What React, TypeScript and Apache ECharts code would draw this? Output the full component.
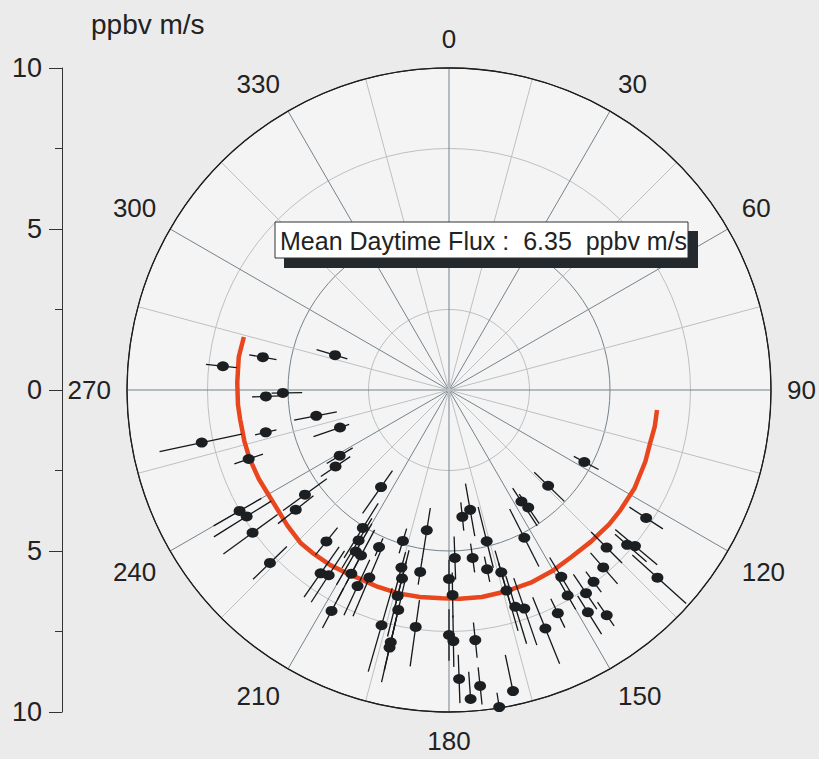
import React, { useEffect, useRef } from "react";
import * as echarts from "echarts";

// Wind direction (degrees, clockwise from north) of each flux sample
const directions = [
  287, 276, 280, 268, 269, 259, 251, 257, 258, 251,
  239, 236, 234, 232, 240, 238, 234, 226, 219, 215,
  213, 212, 211, 210, 208, 208, 203, 205, 208, 215,
  204, 197, 189, 195, 194, 194, 193, 196, 193, 193,
  189, 188, 180, 179, 180, 179, 178, 178, 134, 147,
  146, 170, 174, 166, 153, 172, 168, 164, 164, 163,
  161, 149, 150, 154, 158, 174, 174, 176, 168, 171,
  118, 123, 135, 131, 130, 139, 132, 143, 146, 148,
  145,
];
// Flux magnitude (ppbv m/s)
const fluxes = [
  3.7, 7.06, 5.87, 5.69, 5.16, 4.2, 3.58, 5.84, 7.85, 6.58,
  3.96, 4.25, 5.53, 6.04, 7.51, 7.41, 7.54, 7.73, 6.05, 6.95,
  6.86, 5.05, 5.45, 5.79, 5.82, 6.46, 6.33, 6.72, 7.77, 3.68,
  5.34, 4.9, 4.41, 5.71, 6.03, 6.59, 7.01, 7.6, 8.04, 8.21,
  5.72, 7.43, 5.87, 6.37, 7.61, 7.8, 5.22, 8.98, 4.28, 4.13,
  4.4, 3.78, 3.96, 4.84, 5.15, 5.27, 5.69, 5.89, 6.48, 7.04,
  7.18, 6.77, 7.37, 7.71, 7.99, 7.81, 9.24, 9.62, 9.56, 9.97,
  4.76, 7.3, 6.92, 7.33, 7.54, 7.3, 8.71, 7.46, 7.61, 8.14,
  8.54,
];
// Error bar extent towards the centre (ppbv m/s)
const errMinus = [
  0.4, 0.43, 0.43, 0.43, 0.6, 0.65, 0.3, 0.34, 1.27, 0.47,
  0.47, 0.55, 0.84, 0.7, 0.78, 0.9, 0.96, 0.73, 0.55, 1.0,
  0.9, 0.9, 0.8, 1.0, 0.9, 0.7, 0.9, 0.9, 0.8, 0.62,
  0.3, 0.4, 0.7, 0.5, 0.9, 1.1, 1.0, 1.2, 1.2, 1.0,
  0.4, 0.84, 0.6, 0.7, 0.8, 0.8, 0.67, 0.75, 0.6, 0.5,
  0.5, 0.83, 0.45, 1.1, 1.0, 0.45, 0.4, 0.7, 0.9, 1.0,
  1.0, 0.7, 0.6, 0.5, 1.05, 0.55, 0.58, 0.85, 1.15, 0.45,
  0.37, 0.62, 0.68, 0.5, 0.8, 0.6, 1.05, 0.4, 0.7, 0.6,
  0.5,
];
// Error bar extent away from the centre (ppbv m/s)
const errPlus = [
  0.6, 0.53, 0.43, 0.43, 0.35, 0.7, 0.87, 0.34, 1.34, 0.47,
  0.47, 0.55, 0.84, 0.7, 0.93, 1.2, 1.12, 0.73, 0.55, 0.9,
  1.0, 1.1, 1.0, 1.2, 1.0, 0.9, 1.3, 1.0, 0.6, 1.0,
  0.3, 0.4, 0.93, 0.8, 1.0, 1.3, 1.4, 1.5, 0.9, 1.1,
  0.4, 1.24, 0.6, 0.7, 0.8, 0.8, 0.67, 0.75, 0.7, 0.9,
  0.6, 0.83, 0.43, 0.85, 1.0, 0.45, 0.4, 1.2, 1.3, 1.2,
  1.2, 0.7, 0.5, 0.5, 1.18, 0.55, 0.58, 0.05, 0.1, 0.05,
  0.5, 0.62, 0.68, 0.8, 0.9, 0.68, 1.2, 0.4, 0.6, 0.8,
  0.4,
];

// Fitted daytime flux curve (direction, flux)
const curveDirections = [
  95.5, 100, 105, 110, 118, 125, 130, 137, 144, 150, 157, 164, 171, 177, 182,
  188, 194, 200, 204, 210, 214, 220, 224, 230, 239, 245, 251, 256, 262, 266,
  272, 279, 284.5,
];
const curveFlux = [
  6.49, 6.49, 6.46, 6.49, 6.52, 6.5, 6.49, 6.45, 6.43, 6.47, 6.5, 6.5, 6.51,
  6.49, 6.47, 6.49, 6.51, 6.5, 6.48, 6.52, 6.57, 6.6, 6.62, 6.55, 6.48, 6.52,
  6.55, 6.55, 6.55, 6.57, 6.58, 6.61, 6.58,
];

const angleLabels = [0, 30, 60, 90, 120, 150, 180, 210, 240, 270, 300, 330];
const sideTicks = [-10, -5, 0, 5, 10];

const meanText = "Mean Daytime Flux :  6.35  ppbv m/s";
const unitText = "ppbv m/s";

const FONT = "'Liberation Sans', Arial, sans-serif";

export default function App() {
  const ref = useRef<HTMLDivElement>(null);

  useEffect(() => {
    if (!ref.current) return;
    const chart = echarts.init(ref.current, undefined, { renderer: "svg" });

    const pointData = directions.map((d, i) => [fluxes[i], d]);
    const barData = directions.map((d, i) => [
      fluxes[i],
      d,
      errMinus[i],
      errPlus[i],
    ]);
    const curveData = curveDirections.map((d, i) => [curveFlux[i], d]);

    const option: any = {
      animation: false,
      backgroundColor: "transparent",
      title: {
        text: unitText,
        left: 86,
        top: 5,
        textStyle: {
          fontSize: 28,
          fontWeight: "normal",
          color: "#222",
          fontFamily: FONT,
        },
      },
      polar: { center: [449, 390], radius: 322 },
      angleAxis: {
        type: "value",
        min: 0,
        max: 360,
        interval: 15,
        startAngle: 90,
        clockwise: true,
        axisLine: { show: true, lineStyle: { color: "#1e1e1e", width: 1.3 } },
        axisTick: { show: false },
        axisLabel: {
          show: true,
          margin: 16,
          fontSize: 26,
          color: "#222",
          fontFamily: FONT,
          formatter: (v: number) =>
            angleLabels.indexOf(v) >= 0 ? String(v) : "",
        },
        splitLine: {
          show: true,
          lineStyle: { color: ["#74838c", "#bcc0c3"], width: 1 },
        },
      },
      radiusAxis: {
        type: "value",
        min: 0,
        max: 10,
        interval: 2.5,
        axisLine: { show: false },
        axisTick: { show: false },
        axisLabel: { show: false },
        splitLine: {
          show: true,
          lineStyle: {
            color: ["#bcc0c3", "#bcc0c3", "#74838c", "#bcc0c3", "#1e1e1e"],
            width: 1,
          },
        },
      },
      grid: { left: 62, top: 68, height: 644, width: 1 },
      xAxis: { type: "value", show: false, min: 0, max: 1 },
      yAxis: {
        type: "value",
        min: sideTicks[0],
        max: sideTicks[sideTicks.length - 1],
        interval: 5,
        position: "left",
        axisLine: { show: true, lineStyle: { color: "#333", width: 1 } },
        axisTick: { show: true, length: 13, lineStyle: { color: "#333" } },
        minorTick: {
          show: true,
          splitNumber: 2,
          length: 7,
          lineStyle: { color: "#333" },
        },
        splitLine: { show: false },
        axisLabel: {
          margin: 20,
          fontSize: 27,
          color: "#222",
          fontFamily: FONT,
          formatter: (v: number) => String(Math.abs(v)),
        },
      },
      graphic: [
        {
          type: "circle",
          z: -100,
          silent: true,
          shape: { cx: 449, cy: 390, r: 322 },
          style: { fill: "#f4f4f4" },
        },
        {
          type: "rect",
          z: 100,
          shape: { x: 284, y: 231, width: 414, height: 37 },
          style: { fill: "#23292c" },
        },
        {
          type: "rect",
          z: 101,
          shape: { x: 275, y: 222, width: 413, height: 36 },
          style: { fill: "#ffffff", stroke: "#333", lineWidth: 1 },
        },
        {
          type: "text",
          z: 102,
          x: 280,
          y: 241,
          style: {
            text: meanText,
            fontSize: 25,
            fontFamily: FONT,
            fill: "#222",
            verticalAlign: "middle",
          },
        },
      ],
      series: [
        {
          type: "line",
          coordinateSystem: "polar",
          data: curveData,
          showSymbol: false,
          smooth: false,
          lineStyle: { color: "#e8461e", width: 4.5 },
          z: 2,
        },
        {
          type: "custom",
          coordinateSystem: "polar",
          data: barData,
          encode: { radius: 0, angle: 1 },
          z: 3,
          renderItem: (params: any, api: any) => {
            const r = api.value(0);
            const a = api.value(1);
            const lo = api.value(2);
            const hi = api.value(3);
            const p1 = api.coord([r - lo, a]);
            const p2 = api.coord([r + hi, a]);
            return {
              type: "line",
              shape: { x1: p1[0], y1: p1[1], x2: p2[0], y2: p2[1] },
              style: { stroke: "#15181a", lineWidth: 1.3 },
            };
          },
        },
        {
          type: "scatter",
          coordinateSystem: "polar",
          data: pointData,
          symbol: "circle",
          symbolSize: [12, 10],
          itemStyle: { color: "#1b1f22", opacity: 1 },
          z: 4,
        },
      ],
    };

    chart.setOption(option);
    return () => chart.dispose();
  }, []);

  return (
    <div
      style={{
        position: "fixed",
        left: 0,
        top: 0,
        width: 819,
        height: 759,
        background: "#ebebeb",
      }}
    >
      <div ref={ref} style={{ width: 819, height: 759 }} />
    </div>
  );
}
